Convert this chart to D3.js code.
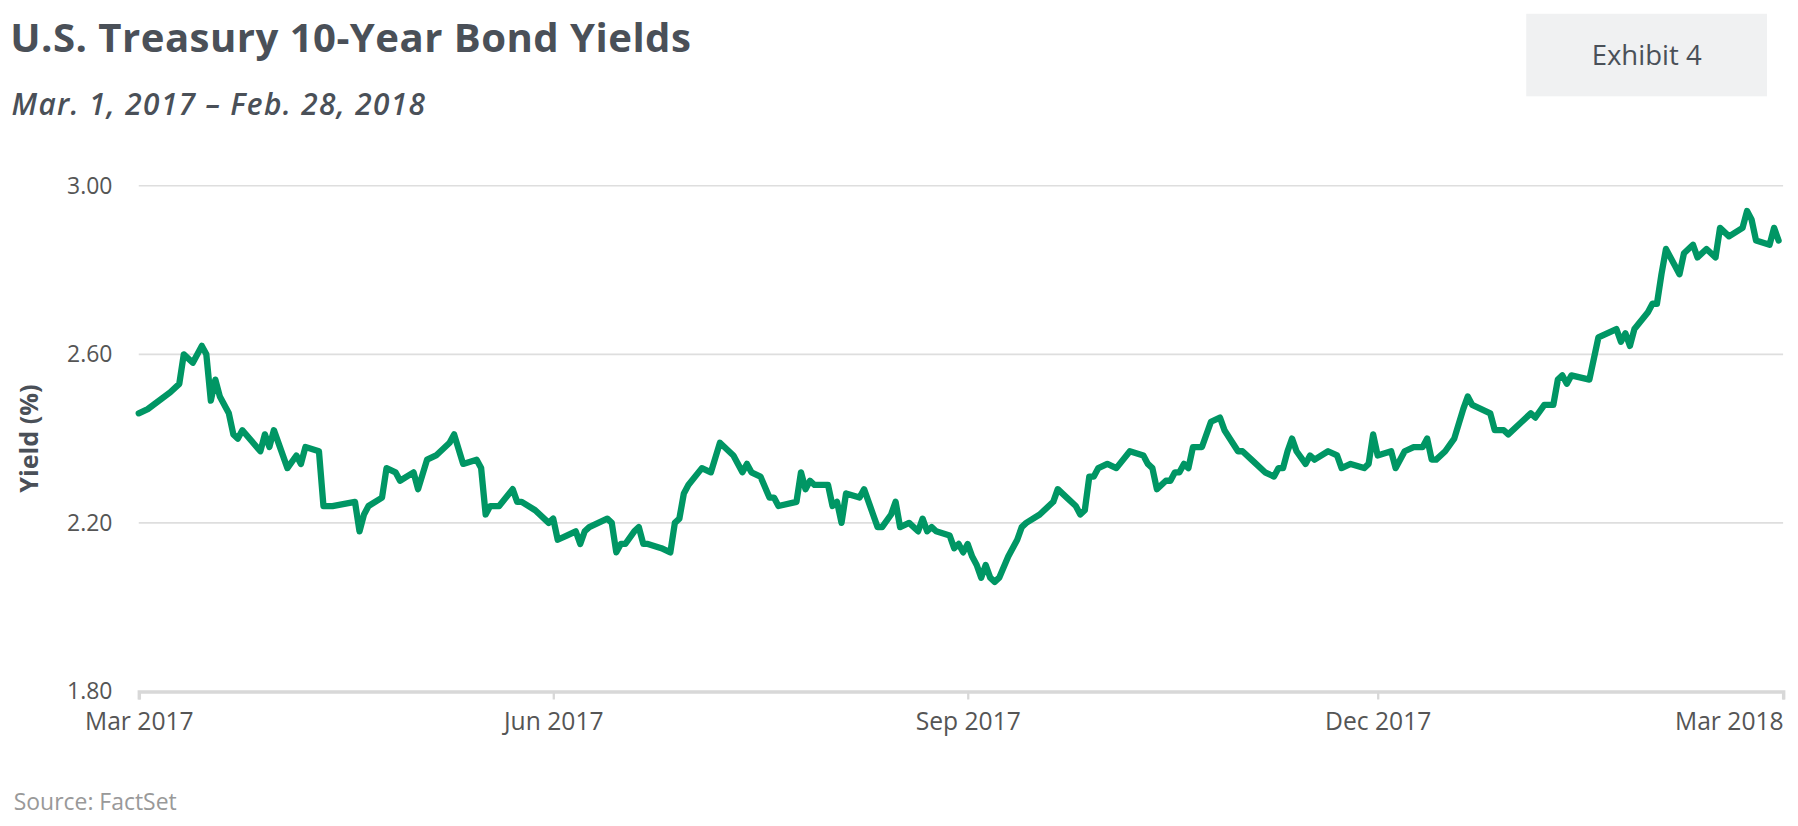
<!DOCTYPE html>
<html>
<head>
<meta charset="utf-8">
<script src="https://cdn.jsdelivr.net/npm/d3@7"></script>
<style>
  body { margin: 0; background: #fff; font-family: "Open Sans", sans-serif; }
</style>
</head>
<body>
<div id="container"></div>
<script>
// days since Mar 1, 2017 and 10-year yield (%)
const dayOffsets = [0,2,7,9,10,12,14,15,16,17,18,20,21,22,23,27,28,29,30,33,35,36,37,40,41,43,48,49,50,51,54,55,57,58,61,62,64,66,69,70,72,75,76,77,78,80,83,84,85,88,91,92,93,95,97,98,99,100,102,104,105,106,107,108,110,111,112,113,116,118,119,120,121,122,125,127,129,132,134,135,136,138,140,141,142,146,147,148,149,150,153,154,155,156,157,160,161,163,164,165,167,168,169,171,173,174,175,176,177,180,181,182,183,184,185,186,187,188,189,190,191,193,195,196,197,200,203,204,206,208,209,210,211,212,213,215,217,220,223,224,225,226,228,229,230,231,232,233,234,236,238,240,241,244,245,247,250,252,253,254,255,256,257,259,260,261,264,266,267,269,272,273,274,275,278,279,281,283,285,286,287,288,290,292,294,295,296,300,301,303,304,307,309,310,312,314,315,316,317,318,322,324,328,329,330,331,332,335,336,337,338,339,341,342,343,345,346,348,349,350,351,353,356,357,358,359,362,363,364];
const yields = [2.46,2.47,2.51,2.53,2.60,2.58,2.62,2.60,2.49,2.54,2.50,2.46,2.41,2.40,2.42,2.37,2.41,2.38,2.42,2.33,2.36,2.34,2.38,2.37,2.24,2.24,2.25,2.18,2.22,2.24,2.26,2.33,2.32,2.30,2.32,2.28,2.35,2.36,2.39,2.41,2.34,2.35,2.33,2.22,2.24,2.24,2.28,2.25,2.25,2.23,2.20,2.21,2.16,2.17,2.18,2.15,2.18,2.19,2.20,2.21,2.20,2.13,2.15,2.15,2.18,2.19,2.15,2.15,2.14,2.13,2.20,2.21,2.27,2.29,2.33,2.32,2.39,2.36,2.32,2.34,2.32,2.31,2.26,2.26,2.24,2.25,2.32,2.28,2.30,2.29,2.29,2.24,2.25,2.20,2.27,2.26,2.28,2.22,2.19,2.19,2.22,2.25,2.19,2.20,2.18,2.21,2.18,2.19,2.18,2.17,2.14,2.15,2.13,2.15,2.12,2.10,2.07,2.10,2.07,2.06,2.07,2.12,2.16,2.19,2.20,2.22,2.25,2.28,2.26,2.24,2.22,2.23,2.31,2.31,2.33,2.34,2.33,2.37,2.36,2.34,2.33,2.28,2.30,2.30,2.32,2.32,2.34,2.33,2.38,2.38,2.44,2.45,2.42,2.37,2.37,2.35,2.32,2.31,2.33,2.33,2.37,2.40,2.37,2.34,2.36,2.35,2.37,2.36,2.33,2.34,2.33,2.34,2.41,2.36,2.37,2.33,2.37,2.38,2.38,2.40,2.35,2.35,2.37,2.40,2.47,2.50,2.48,2.46,2.42,2.42,2.41,2.44,2.46,2.45,2.48,2.48,2.54,2.55,2.53,2.55,2.54,2.64,2.66,2.63,2.65,2.62,2.66,2.70,2.72,2.72,2.79,2.85,2.81,2.79,2.84,2.86,2.83,2.85,2.84,2.83,2.90,2.88,2.90,2.94,2.92,2.87,2.86,2.90,2.87];
const yTicks = [1.8, 2.2, 2.6, 3.0];
const xTickDates = ["2017-03-01", "2017-06-01", "2017-09-01", "2017-12-01", "2018-03-01"];

const width = 1798, height = 826;
const k = 1798 / 1568; // layout measured on a 1568-wide copy
const start = new Date(2017, 2, 1);
const data = dayOffsets.map((d, i) => ({ date: d3.timeDay.offset(start, d), value: yields[i] }));

const svg = d3.select('#container').append('svg')
  .attr('width', width)
  .attr('height', height);
const g = svg.append('g').attr('transform', `scale(${k})`);

const x = d3.scaleTime()
  .domain([start, new Date(2018, 2, 1)])
  .range([121, 1555]);
const y = d3.scaleLinear()
  .domain([1.8, 3.0])
  .range([603, 162]);

// titles
g.append('text').attr('x', 9).attr('y', 45)
  .attr('font-size', 35).attr('font-weight', 700).attr('fill', '#4a5058')
  .attr('letter-spacing', 0.4)
  .text('U.S. Treasury 10-Year Bond Yields');
g.append('text').attr('x', 10).attr('y', 100)
  .attr('font-size', 26).attr('font-style', 'italic').attr('font-weight', 600).attr('fill', '#4a5058')
  .attr('letter-spacing', 1.2)
  .text('Mar. 1, 2017 – Feb. 28, 2018');

g.append('rect').attr('x', 1331).attr('y', 12).attr('width', 210).attr('height', 72).attr('fill', '#f0f1f2');
g.append('text').attr('x', 1436).attr('y', 57).attr('text-anchor', 'middle')
  .attr('font-size', 24).attr('fill', '#4a5058').text('Exhibit 4');

// grid
g.append('g').selectAll('line').data(yTicks.slice(1)).join('line')
  .attr('x1', 121).attr('x2', 1555)
  .attr('y1', d => y(d)).attr('y2', d => y(d))
  .attr('stroke', '#dedede').attr('stroke-width', 1.5);

// y axis labels
g.append('g').selectAll('text').data(yTicks).join('text')
  .attr('x', 98).attr('y', d => y(d) + 7).attr('text-anchor', 'end')
  .attr('font-size', 20).attr('fill', '#555')
  .text(d3.format('.2f'));

g.append('text')
  .attr('transform', `translate(33, ${y(2.4)}) rotate(-90)`)
  .attr('text-anchor', 'middle').attr('font-size', 22).attr('font-weight', 700).attr('fill', '#4a5058')
  .text('Yield (%)');

// x axis
const xAxis = d3.axisBottom(x)
  .tickValues(xTickDates.map(d => d3.timeParse('%Y-%m-%d')(d)))
  .tickFormat(d3.timeFormat('%b %Y'))
  .tickSizeOuter(0).tickSize(7).tickPadding(11);
const gx = g.append('g').attr('transform', 'translate(0,603)').call(xAxis);
gx.select('.domain').attr('stroke', '#d8d8d8').attr('stroke-width', 3);
gx.selectAll('.tick line').attr('stroke', '#d8d8d8').attr('stroke-width', 2);
gx.selectAll('.tick text').attr('font-size', 21.5).attr('fill', '#555').attr('font-family', '"Open Sans", sans-serif');
gx.selectAll('.tick:last-of-type text').attr('text-anchor', 'end').attr('dx', 0);

// line
g.append('path').datum(data)
  .attr('fill', 'none').attr('stroke', '#009664').attr('stroke-width', 5.5)
  .attr('stroke-linejoin', 'round').attr('stroke-linecap', 'round')
  .attr('d', d3.line().x(d => x(d.date)).y(d => y(d.value)));

g.append('text').attr('x', 12).attr('y', 706)
  .attr('font-size', 20).attr('fill', '#999').text('Source: FactSet');
</script>
</body>
</html>
